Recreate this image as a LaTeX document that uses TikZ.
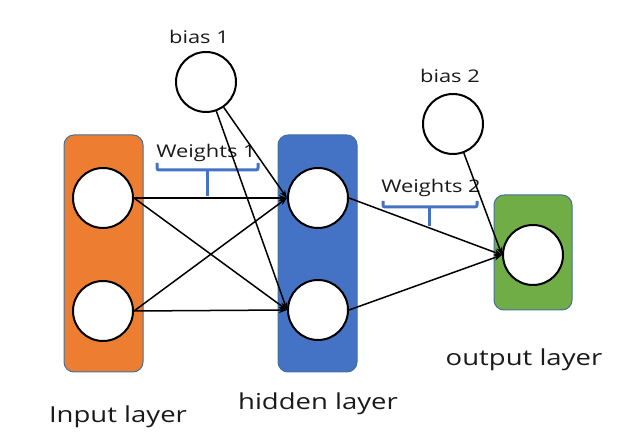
\documentclass[tikz,border=0pt]{standalone}
\usepackage{fontspec}
\setmainfont[FakeStretch=1.25]{Open Sans}
\usetikzlibrary{arrows.meta}
\definecolor{cOrange}{HTML}{ED7D31}
\definecolor{cBlue}{HTML}{4472C4}
\definecolor{cGreen}{HTML}{70AD47}
\definecolor{cEdge}{HTML}{41719C}
\definecolor{cText}{HTML}{1A1A1A}
\begin{document}
\begin{tikzpicture}[x=1pt,y=-1pt,
  layerbox/.style={draw=cEdge, line width=1pt, rounded corners=10pt},
  neuron/.style={circle, draw=black, fill=white, line width=2pt, minimum size=60pt, inner sep=0pt},
  arr/.style={line width=1.5pt, -{Stealth[length=8pt,width=6pt]}},
  brace/.style={draw=cBlue, line width=3pt, rounded corners=2pt},
  lbl/.style={text=cText, font=\fontsize{22}{26}\selectfont, inner sep=0pt},
  slbl/.style={text=cText, font=\fontsize{17.5}{21}\selectfont, inner sep=0pt}]
\useasboundingbox (0,0) rectangle (624,435);
% layer boxes
\filldraw[layerbox, fill=cOrange] (64,135) rectangle (143,372);
\filldraw[layerbox, fill=cBlue] (278,135) rectangle (357,372);
\filldraw[layerbox, fill=cGreen] (494,195) rectangle (572,310);
% braces
\draw[brace] (157,163) -- (157,170) -- (258,170) -- (258,163);
\draw[brace] (207,170) -- (207,196);
\draw[brace] (383,201) -- (383,207) -- (477,207) -- (477,201);
\draw[brace] (429,207) -- (429,226);
% neurons
\node[neuron] (i1) at (103,198) {};
\node[neuron] (i2) at (103,311) {};
\node[neuron] (h1) at (318,198) {};
\node[neuron] (h2) at (318,310) {};
\node[neuron] (o) at (533,255) {};
\node[neuron] (b1) at (206,82) {};
\node[neuron] (b2) at (453,124) {};
% labels
\node[slbl] (tb1) at (199,37) {bias 1};
\node[slbl] (tb2) at (450,76) {bias 2};
\node[slbl] (tw1) at (206,153) {Weights 1};
\node[slbl] (tw2) at (431,188) {Weights 2};
\node[lbl] (tin) at (118,417) {Input layer};
\node[lbl] (thid) at (318,404) {hidden layer};
\node[lbl] (tout) at (524,360) {output layer};
% connectors
\draw[arr] (i1.east) -- (h1.west);
\draw[arr] (i1.east) -- (h2.west);
\draw[arr] (i2.east) -- (h1.west);
\draw[arr] (i2.east) -- (h2.west);
\draw[arr] (b1) -- (h1.west);
\draw[arr] (b1) -- (h2.west);
\draw[arr] (h1.east) -- (o.west);
\draw[arr] (h2.east) -- (o.west);
\draw[arr] (b2) -- (o.west);
\end{tikzpicture}
\end{document}
